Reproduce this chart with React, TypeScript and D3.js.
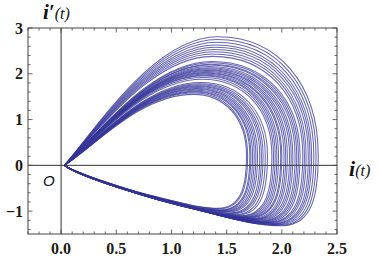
import * as d3 from "d3";
import { useEffect, useRef } from "react";

// each loop of the trajectory: where it crosses i' = 0 on the right, its top and its bottom
const crossX = [
  1.68, 1.69, 1.71, 1.72, 1.735, 1.75, 1.765, 1.78, 1.8, 1.815, 1.83, 1.85, 1.87,
  1.91, 1.925, 1.94, 1.955, 1.97, 1.99, 2.0, 2.02, 2.035, 2.05, 2.07, 2.085, 2.1, 2.12, 2.135, 2.15, 2.165,
  2.19, 2.205, 2.22, 2.24, 2.255, 2.27, 2.29, 2.31, 2.33,
];
const peakY = [
  1.55, 1.58, 1.6, 1.62, 1.64, 1.66, 1.68, 1.7, 1.72, 1.74, 1.76, 1.78, 1.81,
  1.88, 1.92, 1.95, 1.97, 1.99, 2.01, 2.03, 2.05, 2.07, 2.09, 2.11, 2.13, 2.16, 2.19, 2.21, 2.24, 2.27,
  2.38, 2.43, 2.48, 2.53, 2.58, 2.63, 2.69, 2.75, 2.81,
];
const bottomY = [
  -0.94, -0.95, -0.97, -0.98, -0.99, -1.0, -1.01, -1.02, -1.04, -1.05, -1.06, -1.08, -1.09,
  -1.1, -1.11, -1.12, -1.13, -1.135, -1.14, -1.15, -1.16, -1.17, -1.175, -1.18, -1.19, -1.2, -1.21, -1.22, -1.23,
  -1.24, -1.245, -1.25, -1.26, -1.27, -1.28, -1.29, -1.3, -1.31, -1.32,
];

const xTickLabels = ["0.0", "0.5", "1.0", "1.5", "2.0", "2.5"];
const yTickLabels = ["\u22121", "0", "1", "2", "3"];

const W = 380;
const H = 262;

const App = () => {
  const svgRef = useRef(null);

  useEffect(() => {
    const svg = d3.select(svgRef.current);
    svg.selectAll("*").remove();

    const x = d3.scaleLinear().domain([-0.3, 2.5]).range([28, 337]);
    const y = d3.scaleLinear().domain([-1.5, 3]).range([234, 28]);

    // where the peak / bottom sit, depending on loop size
    const peakX = d3.scaleLinear().domain([1.68, 2.33]).range([1.2, 1.42]);
    const bottomX = d3.scaleLinear().domain([1.68, 2.33]).range([1.42, 2.0]);

    const g = svg.append("g");

    crossX.forEach((R, i) => {
      const P = peakY[i];
      const B = bottomY[i];
      const Px = peakX(R);
      const Bx = bottomX(R);
      const ry = 0.22;
      const p = d3.path();
      p.moveTo(x(0.03), y(0));
      p.bezierCurveTo(x(0.33), y(0.3 * P), x(0.6 * Px), y(P), x(Px), y(P));
      p.bezierCurveTo(
        x(Px + 0.6 * (R - Px)), y(P),
        x(R), y(ry + 0.6 * (P - ry)),
        x(R), y(ry)
      );
      p.bezierCurveTo(
        x(R), y(ry + 0.55 * (B - ry)),
        x(Bx + 0.85 * (R - Bx)), y(B),
        x(Bx), y(B)
      );
      // lower branch: round bottom, then nearly straight back to the origin
      const mx = 0.62 * Bx;
      const my = 0.74 * B;
      p.bezierCurveTo(x(0.86 * Bx), y(B), x(0.74 * Bx), y(0.84 * B), x(mx), y(my));
      p.bezierCurveTo(x(0.45 * Bx), y(0.6 * B), x(0.16), y(0.2 * B), x(0.03), y(0));
      g.append("path")
        .attr("d", p.toString())
        .attr("fill", "none")
        .attr("stroke", "#35359a")
        .attr("stroke-width", 1.05)
        .attr("stroke-opacity", 0.75);
    });

    // axes through the origin
    svg.append("line")
      .attr("x1", 28).attr("x2", 337).attr("y1", y(0)).attr("y2", y(0))
      .attr("stroke", "#333").attr("stroke-width", 1);
    svg.append("line")
      .attr("x1", x(0)).attr("x2", x(0)).attr("y1", 28).attr("y2", 234)
      .attr("stroke", "#333").attr("stroke-width", 1);

    // frame
    svg.append("rect")
      .attr("x", 28).attr("y", 28).attr("width", 309).attr("height", 206)
      .attr("fill", "none").attr("stroke", "#444").attr("stroke-width", 1);

    const ticks = svg.append("g").attr("stroke", "#444").attr("stroke-width", 0.8);
    d3.range(-0.3, 2.501, 0.1).forEach((v) => {
      const major = Math.abs(v * 2 - Math.round(v * 2)) < 1e-6;
      const len = major ? 4.5 : 2.5;
      ticks.append("line").attr("x1", x(v)).attr("x2", x(v)).attr("y1", 234).attr("y2", 234 - len);
      ticks.append("line").attr("x1", x(v)).attr("x2", x(v)).attr("y1", 28).attr("y2", 28 + len);
    });
    d3.range(-1.4, 3.001, 0.2).forEach((v) => {
      const major = Math.abs(v - Math.round(v)) < 1e-6;
      const len = major ? 4.5 : 2.5;
      ticks.append("line").attr("y1", y(v)).attr("y2", y(v)).attr("x1", 28).attr("x2", 28 + len);
      ticks.append("line").attr("y1", y(v)).attr("y2", y(v)).attr("x1", 337).attr("x2", 337 - len);
    });

    const font = "'Liberation Serif', 'Times New Roman', serif";
    svg.append("g")
      .selectAll("text")
      .data(xTickLabels)
      .enter()
      .append("text")
      .attr("x", (d) => x(+d))
      .attr("y", 254)
      .attr("text-anchor", "middle")
      .attr("font-family", font)
      .attr("font-weight", "bold")
      .attr("font-size", 16)
      .attr("fill", "#1e1a14")
      .text((d) => d);

    svg.append("g")
      .selectAll("text")
      .data(yTickLabels)
      .enter()
      .append("text")
      .attr("x", 23)
      .attr("y", (d) => y(+d.replace("\u2212", "-")) + 5.5)
      .attr("text-anchor", "end")
      .attr("font-family", font)
      .attr("font-weight", "bold")
      .attr("font-size", 16)
      .attr("fill", "#1e1a14")
      .text((d) => d);

    const yl = svg.append("text")
      .attr("x", 43).attr("y", 19)
      .attr("font-family", font).attr("font-style", "italic").attr("font-weight", "bold")
      .attr("fill", "#111");
    yl.append("tspan").attr("font-size", 21).text("i\u2032");
    yl.append("tspan").attr("font-size", 16).attr("font-weight", "normal").text("(t)");

    const xl = svg.append("text")
      .attr("x", 349).attr("y", 176)
      .attr("font-family", font).attr("font-style", "italic").attr("font-weight", "bold")
      .attr("fill", "#111");
    xl.append("tspan").attr("font-size", 22).text("i");
    xl.append("tspan").attr("font-size", 16).attr("font-weight", "normal").text("(t)");

    svg.append("text")
      .attr("x", 43).attr("y", 186)
      .attr("font-family", "'Liberation Sans', Arial, sans-serif")
      .attr("font-style", "italic")
      .attr("font-size", 15)
      .attr("fill", "#111")
      .text("O");
  }, []);

  return (
    <div>
      <svg
        ref={svgRef}
        width={W}
        height={H}
        style={{ position: "absolute", left: 0, top: 0, background: "#fff" }}
      ></svg>
    </div>
  );
};

export default App;
